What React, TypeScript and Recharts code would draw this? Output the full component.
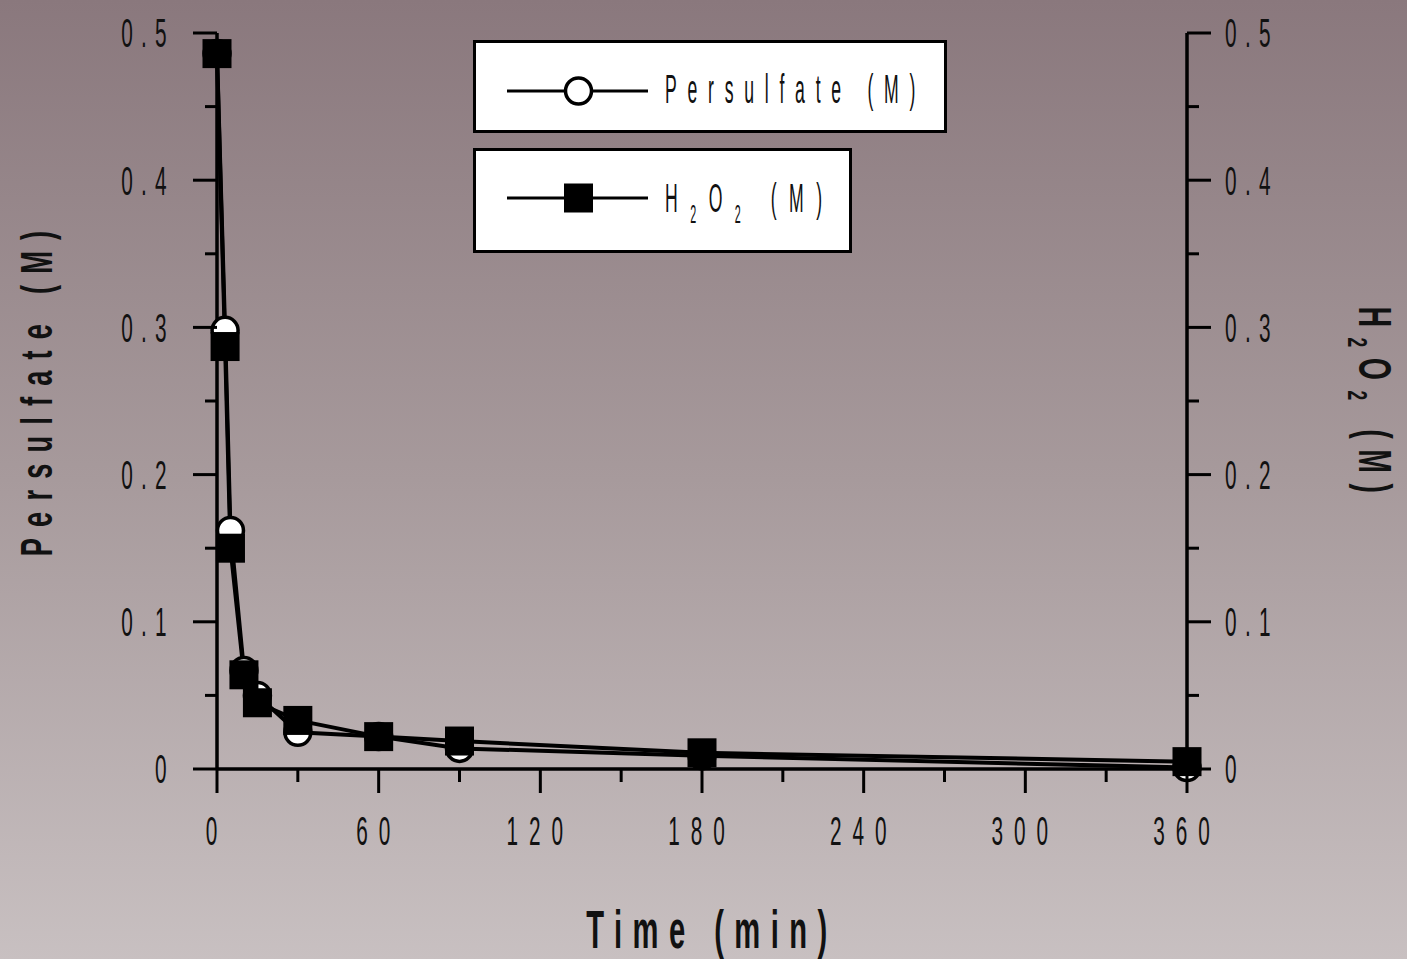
import React from 'react';
import { LineChart, Line, XAxis, YAxis, Legend } from 'recharts';

// ---- data ----
const timeMin = [0, 3, 5, 10, 15, 30, 60, 90, 180, 360];
const persulfateM = [0.486, 0.298, 0.162, 0.067, 0.05, 0.025, 0.022, 0.014, 0.009, 0.001];
const h2o2M = [0.486, 0.287, 0.15, 0.064, 0.045, 0.033, 0.022, 0.019, 0.011, 0.005];

const xTicks = [0, 30, 60, 90, 120, 150, 180, 210, 240, 270, 300, 330, 360];
const xMajorTicks = [0, 60, 120, 180, 240, 300, 360];
const yTicks = [0, 0.05, 0.1, 0.15, 0.2, 0.25, 0.3, 0.35, 0.4, 0.45, 0.5];
const yMajorTicks = [0, 0.1, 0.2, 0.3, 0.4, 0.5];

const seriesPersulfate = 'Persulfate (M)';
const seriesH2O2 = 'H2O2 (M)';
const xTitle = 'Time (min)';
const leftTitle = 'Persulfate (M)';
const rightTitle = 'H2O2 (M)';

const data = timeMin.map((t, i) => ({ time: t, persulfate: persulfateM[i], h2o2: h2o2M[i] }));

// ---- styling ----
const FONT = "'Liberation Sans', Arial, Helvetica, sans-serif";
const INK = '#111';
const TICK_MAJOR = 24;
const TICK_MINOR = 12;
const Y_TICK_MARGIN_L = 18;
const Y_TICK_MARGIN_R = 14;

const isIn = (arr: number[], v: number) => arr.some((a) => Math.abs(a - v) < 1e-9);
const fmtY = (v: number) => (v === 0 ? '0' : v.toFixed(1));

// turn "H2O2 (M)" into tspans with subscripts
function chem(str: string, subSize: number, shift: number) {
  const segs: { t: string; sub: boolean }[] = [];
  let buf = '';
  for (let i = 0; i < str.length; i++) {
    const ch = str[i];
    if (/\d/.test(ch) && i > 0 && /[A-Za-z]/.test(str[i - 1])) {
      if (buf) segs.push({ t: buf, sub: false });
      buf = '';
      segs.push({ t: ch, sub: true });
    } else buf += ch;
  }
  if (buf) segs.push({ t: buf, sub: false });
  let cur = 0;
  return segs.map((s, i) => {
    const target = s.sub ? shift : 0;
    const dy = target - cur;
    cur = target;
    return (
      <tspan key={i} dy={dy} fontSize={s.sub ? subSize : undefined}>
        {s.t}
      </tspan>
    );
  });
}

const XTick = (props: any) => {
  const { x, y, payload } = props;
  const v = payload.value;
  const major = isIn(xMajorTicks, v);
  const axisY = y - TICK_MAJOR;
  return (
    <g>
      <line x1={x} x2={x} y1={axisY} y2={axisY + (major ? TICK_MAJOR : TICK_MINOR + 1)} stroke="#000" strokeWidth={3} />
      {major && (
        <text
          transform={`translate(${x},${axisY + 76}) scale(0.52,1)`}
          textAnchor="middle"
          fontSize={40}
          letterSpacing={21}
          fontFamily={FONT}
          fill={INK}
        >
          {String(v)}
        </text>
      )}
    </g>
  );
};

const YLeftTick = (props: any) => {
  const { x, y, payload } = props;
  const v = payload.value;
  const major = isIn(yMajorTicks, v);
  const axisX = x + TICK_MAJOR + Y_TICK_MARGIN_L;
  return (
    <g>
      <line x1={axisX} x2={axisX - (major ? TICK_MAJOR : TICK_MINOR)} y1={y} y2={y} stroke="#000" strokeWidth={3} />
      {major && (
        <text
          transform={`translate(${x},${y}) scale(0.52,1)`}
          textAnchor="end"
          dy="0.36em"
          fontSize={40}
          letterSpacing={16}
          fontFamily={FONT}
          fill={INK}
        >
          {fmtY(v)}
        </text>
      )}
    </g>
  );
};

const YRightTick = (props: any) => {
  const { x, y, payload } = props;
  const v = payload.value;
  const major = isIn(yMajorTicks, v);
  const axisX = x - TICK_MAJOR - Y_TICK_MARGIN_R;
  return (
    <g>
      <line x1={axisX} x2={axisX + (major ? TICK_MAJOR : TICK_MINOR)} y1={y} y2={y} stroke="#000" strokeWidth={3} />
      {major && (
        <text
          transform={`translate(${x},${y}) scale(0.52,1)`}
          textAnchor="start"
          dy="0.36em"
          fontSize={40}
          letterSpacing={16}
          fontFamily={FONT}
          fill={INK}
        >
          {fmtY(v)}
        </text>
      )}
    </g>
  );
};

const XTitle = (props: any) => {
  const vb = props.viewBox || {};
  const cx = vb.x + vb.width / 2 + 10;
  const by = vb.y + 179;
  return (
    <text
      transform={`translate(${cx},${by}) scale(0.55,1)`}
      textAnchor="middle"
      fontSize={53}
      fontWeight="bold"
      letterSpacing={19}
      fontFamily={FONT}
      fill={INK}
    >
      {xTitle}
    </text>
  );
};

const LeftTitle = (props: any) => {
  const vb = props.viewBox || {};
  const bx = vb.x + 52;
  const cy = vb.y + vb.height / 2 - 13;
  return (
    <text
      transform={`translate(${bx},${cy}) rotate(-90) scale(0.62,1)`}
      textAnchor="middle"
      fontSize={44}
      fontWeight="bold"
      letterSpacing={18}
      fontFamily={FONT}
      fill={INK}
    >
      {leftTitle}
    </text>
  );
};

const RightTitle = (props: any) => {
  const vb = props.viewBox || {};
  const bx = vb.x + 172;
  const cy = vb.y + vb.height / 2 + 4;
  return (
    <text
      transform={`translate(${bx},${cy}) rotate(90) scale(0.62,1)`}
      textAnchor="middle"
      fontSize={46}
      fontWeight="bold"
      letterSpacing={17}
      fontFamily={FONT}
      fill={INK}
    >
      {chem(rightTitle, 28, 11)}
    </text>
  );
};

const CircleDot = (p: any) => (
  <circle key={`c${p.index}`} cx={p.cx} cy={p.cy} r={13} fill="#fff" stroke="#000" strokeWidth={3.5} />
);
const SquareDot = (p: any) => (
  <rect key={`s${p.index}`} x={p.cx - 14.5} y={p.cy - 14.5} width={29} height={29} fill="#000" />
);

const renderLegend = (props: any) => {
  const payload: any[] = props.payload || [];
  const p1 = payload.find((e) => e.dataKey === 'persulfate');
  const p2 = payload.find((e) => e.dataKey === 'h2o2');
  const n1 = p1 ? p1.value : seriesPersulfate;
  const n2 = p2 ? p2.value : seriesH2O2;
  return (
    <svg width={490} height={225} style={{ display: 'block', overflow: 'visible' }}>
      <rect x={4.5} y={4.5} width={471} height={90} fill="#fff" stroke="#000" strokeWidth={3} />
      <line x1={37} x2={178} y1={54} y2={54} stroke="#000" strokeWidth={3} />
      <circle cx={108.5} cy={54} r={13} fill="#fff" stroke="#000" strokeWidth={3.5} />
      <text
        transform="translate(195,66) scale(0.43,1)"
        fontSize={41}
        letterSpacing={25}
        fontFamily={FONT}
        fill={INK}
      >
        {n1}
      </text>
      <rect x={4.5} y={112.5} width={376} height={102} fill="#fff" stroke="#000" strokeWidth={3} />
      <line x1={37} x2={178} y1={161} y2={161} stroke="#000" strokeWidth={3} />
      <rect x={94} y={146.5} width={29} height={29} fill="#000" />
      <text
        transform="translate(195,175) scale(0.43,1)"
        fontSize={41}
        letterSpacing={29}
        fontFamily={FONT}
        fill={INK}
      >
        {chem(n2, 25, 11)}
      </text>
    </svg>
  );
};

export default function App() {
  return (
    <div
      style={{
        position: 'absolute',
        left: 0,
        top: 0,
        width: 1407,
        height: 959,
        background: 'linear-gradient(to bottom, #8a787d 0%, #a79a9c 50%, #c8c0c1 100%)',
      }}
    >
      <LineChart width={1407} height={959} data={data} margin={{ top: 33, right: 0, bottom: 0, left: 0 }}>
        <XAxis
          dataKey="time"
          type="number"
          domain={[0, 360]}
          ticks={xTicks}
          interval={0}
          height={190}
          tickSize={TICK_MAJOR}
          tickMargin={0}
          tickLine={false}
          axisLine={{ stroke: '#000', strokeWidth: 3.5 }}
          tick={<XTick />}
          label={{ content: <XTitle /> }}
        />
        <YAxis
          yAxisId="left"
          orientation="left"
          type="number"
          domain={[0, 0.5]}
          ticks={yTicks}
          interval={0}
          width={217}
          tickSize={TICK_MAJOR}
          tickMargin={Y_TICK_MARGIN_L}
          tickLine={false}
          axisLine={{ stroke: '#000', strokeWidth: 3.5 }}
          tick={<YLeftTick />}
          label={{ content: <LeftTitle /> }}
        />
        <YAxis
          yAxisId="right"
          orientation="right"
          type="number"
          domain={[0, 0.5]}
          ticks={yTicks}
          interval={0}
          width={220}
          tickSize={TICK_MAJOR}
          tickMargin={Y_TICK_MARGIN_R}
          tickLine={false}
          axisLine={{ stroke: '#000', strokeWidth: 3.5 }}
          tick={<YRightTick />}
          label={{ content: <RightTitle /> }}
        />
        <Legend
          layout="horizontal"
          verticalAlign="middle"
          align="center"
          wrapperStyle={{ position: 'absolute', left: 470, top: 37, width: 490, height: 225 }}
          content={renderLegend}
        />
        <Line
          yAxisId="left"
          name={seriesPersulfate}
          dataKey="persulfate"
          type="linear"
          stroke="#000"
          strokeWidth={4}
          dot={CircleDot}
          activeDot={false}
          isAnimationActive={false}
        />
        <Line
          yAxisId="right"
          name={seriesH2O2}
          dataKey="h2o2"
          type="linear"
          stroke="#000"
          strokeWidth={4}
          dot={SquareDot}
          activeDot={false}
          isAnimationActive={false}
        />
      </LineChart>
    </div>
  );
}
